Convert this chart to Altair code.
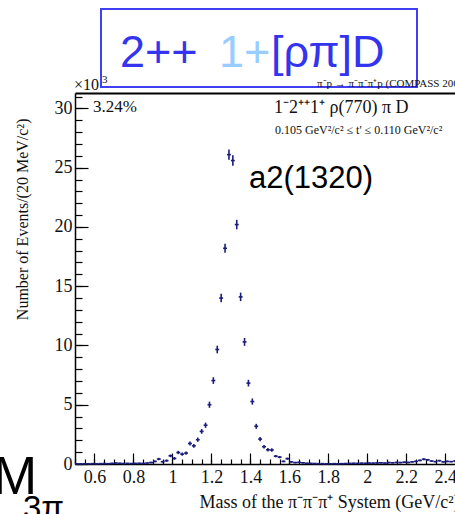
import altair as alt
import pandas as pd

# 3-pion invariant mass spectrum, 20 MeV bins (bin centres in GeV/c^2)
mass = [
    0.51, 0.53, 0.55, 0.57, 0.59, 0.61, 0.63, 0.65, 0.67, 0.69,
    0.71, 0.73, 0.75, 0.77, 0.79, 0.81, 0.83, 0.85, 0.87, 0.89,
    0.91, 0.93, 0.95, 0.97, 0.99, 1.01, 1.03, 1.05, 1.07, 1.09,
    1.11, 1.13, 1.15, 1.17, 1.19, 1.21, 1.23, 1.25, 1.27, 1.29,
    1.31, 1.33, 1.35, 1.37, 1.39, 1.41, 1.43, 1.45, 1.47, 1.49,
    1.51, 1.53, 1.55, 1.57, 1.59, 1.61, 1.63, 1.65, 1.67, 1.69,
    1.71, 1.73, 1.75, 1.77, 1.79, 1.81, 1.83, 1.85, 1.87, 1.89,
    1.91, 1.93, 1.95, 1.97, 1.99, 2.01, 2.03, 2.05, 2.07, 2.09,
    2.11, 2.13, 2.15, 2.17, 2.19, 2.21, 2.23, 2.25, 2.27, 2.29,
    2.31, 2.33, 2.35, 2.37, 2.39, 2.41, 2.43, 2.45,
]

# events per bin, in units of 10^3
events = [
    0.01, 0.01, 0.02, 0.02, 0.03, 0.02, 0.03, 0.04, 0.03, 0.05,
    0.08, 0.06, 0.04, 0.05, 0.04, 0.05, 0.06, 0.05, 0.08, 0.12,
    0.22, 0.42, 0.19, 0.28, 0.69, 0.47, 0.97, 0.83, 0.92, 1.73,
    1.53, 2.05, 2.75, 3.27, 5.00, 7.04, 9.66, 14.0, 18.2, 26.1,
    25.6, 20.2, 14.1, 10.3, 6.82, 5.27, 3.18, 2.10, 1.46, 1.20,
    1.18, 0.66, 0.58, 0.22, 0.45, 0.18, 0.12, 0.14, 0.10, 0.06,
    0.05, 0.04, 0.03, 0.03, 0.02, 0.02, 0.03, 0.02, 0.03, 0.04,
    0.05, 0.06, 0.05, 0.07, 0.06, 0.08, 0.07, 0.09, 0.10, 0.08,
    0.12, 0.10, 0.13, 0.12, 0.15, 0.13, 0.18, 0.22, 0.30, 0.40,
    0.35, 0.25, 0.20, 0.28, 0.18, 0.22, 0.20, 0.25,
]

# statistical uncertainties, same units
errors = [
    0.05, 0.05, 0.05, 0.05, 0.05, 0.05, 0.05, 0.05, 0.05, 0.05,
    0.05, 0.05, 0.05, 0.05, 0.05, 0.05, 0.05, 0.05, 0.05, 0.06,
    0.08, 0.10, 0.08, 0.10, 0.12, 0.12, 0.14, 0.13, 0.14, 0.17,
    0.16, 0.18, 0.20, 0.22, 0.26, 0.28, 0.32, 0.36, 0.38, 0.44,
    0.44, 0.40, 0.36, 0.33, 0.28, 0.26, 0.21, 0.18, 0.15, 0.14,
    0.14, 0.10, 0.10, 0.07, 0.09, 0.07, 0.06, 0.06, 0.06, 0.05,
    0.05, 0.05, 0.05, 0.05, 0.05, 0.05, 0.05, 0.05, 0.05, 0.05,
    0.05, 0.05, 0.05, 0.05, 0.05, 0.05, 0.05, 0.05, 0.05, 0.05,
    0.06, 0.05, 0.06, 0.06, 0.06, 0.06, 0.06, 0.07, 0.07, 0.08,
    0.08, 0.07, 0.06, 0.07, 0.06, 0.07, 0.06, 0.07,
]

x_major = [0.6, 0.8, 1.0, 1.2, 1.4, 1.6, 1.8, 2.0, 2.2, 2.4]
x_minor = [round(0.5 + 0.05 * i, 2) for i in range(40)]
y_major = [0, 5, 10, 15, 20, 25, 30]
y_minor = list(range(0, 32))

df = pd.DataFrame({"mass": mass, "events": events, "err": errors})

W, H = 380, 371
SERIF = "Liberation Serif"
SANS = "Liberation Sans"
INK = "#111111"
MARK = "#1c1c7c"
BLUE = "#3434ee"
LIGHT = "#99ccff"

xs = alt.Scale(domain=[0.5, 2.45], nice=False, zero=False)
ys = alt.Scale(domain=[0, 31.3], nice=False, zero=False)

base = alt.Chart(df).transform_calculate(
    lo="datum.events - datum.err",
    hi="datum.events + datum.err",
    x0="datum.mass - 0.01",
    x1="datum.mass + 0.01",
)

# labelled axes on the frame
x_labels = alt.Axis(
    orient="bottom", values=x_major, format="~g", ticks=False, tickSize=0,
    domain=True, domainColor="black", domainWidth=1.5, grid=False,
    labelFont=SERIF, labelFontSize=18, labelColor=INK, labelPadding=4,
    labelOverlap=False, labelFlush=False,
    title="Mass of the π⁻π⁻π⁺ System (GeV/c²)", titleFont=SERIF,
    titleFontSize=18, titleFontWeight="normal", titleColor=INK,
    titleX=124, titleY=43, titleAlign="left", titleBaseline="alphabetic",
)
y_labels = alt.Axis(
    orient="left", values=y_major, ticks=False, tickSize=0,
    domain=True, domainColor="black", domainWidth=1.5, grid=False,
    labelFont=SERIF, labelFontSize=18, labelColor=INK, labelPadding=3,
    labelOverlap=False, labelFlush=False,
    title="Number of Events/(20 MeV/c²)", titleFont=SERIF,
    titleFontSize=16, titleFontWeight="normal", titleColor=INK,
    titleAngle=270, titleX=-53, titleY=25, titleAlign="right",
    titleBaseline="middle",
)

# inward-pointing ticks: opposite-side axes pulled onto the frame edges
def inward_x(vals, size):
    return alt.Axis(orient="top", offset=-H, values=vals, tickSize=size,
                    tickColor="black", tickWidth=1.2, labels=False,
                    domain=False, grid=False, title=None)


def inward_y(vals, size):
    return alt.Axis(orient="right", offset=-W, values=vals, tickSize=size,
                    tickColor="black", tickWidth=1.2, labels=False,
                    domain=False, grid=False, title=None)


top_edge = alt.Axis(orient="top", ticks=False, labels=False, domain=True,
                    domainColor="black", domainWidth=1.8, grid=False,
                    title=None)

vbars = base.mark_rule(color=MARK, strokeWidth=1.6).encode(
    x=alt.X("mass:Q", scale=xs, axis=x_labels),
    y=alt.Y("lo:Q", scale=ys, axis=y_labels),
    y2="hi:Q",
)
hbars = base.mark_rule(color=MARK, strokeWidth=1.6).encode(
    x=alt.X("x0:Q", scale=xs, axis=inward_x(x_major, 11)),
    x2="x1:Q",
    y=alt.Y("events:Q", scale=ys, axis=inward_y(y_major, 13)),
)
minor_ticks = base.mark_point(opacity=0).encode(
    x=alt.X("mass:Q", scale=xs, axis=inward_x(x_minor, 5)),
    y=alt.Y("events:Q", scale=ys, axis=inward_y(y_minor, 7)),
)
frame_top = base.mark_point(opacity=0).encode(
    x=alt.X("mass:Q", scale=xs, axis=top_edge),
    y=alt.Y("events:Q", scale=ys, axis=None),
)

one = alt.Data(values=[{"k": 0}])


def label(text, x, y, size, font=SERIF, color=INK):
    return alt.Chart(one).mark_text(
        text=text, font=font, fontSize=size, color=color,
        align="left", baseline="alphabetic",
    ).encode(x=alt.value(x), y=alt.value(y))


box = alt.Chart(one).mark_rect(
    fillOpacity=0, stroke="#4040f2", strokeWidth=2
).encode(x=alt.value(26), x2=alt.value(342), y=alt.value(-84), y2=alt.value(-6))

texts = [
    label("2++", 45, -26, 45, SANS, BLUE),
    label("1+", 144, -26, 45, SANS, LIGHT),
    label("[ρπ]D", 196, -26, 45, SANS, BLUE),
    label("π⁻p → π⁻π⁻π⁺p (COMPASS 2008)", 242, -6, 11),
    label("×10", -1, -3, 16),
    label("3", 27, -10, 11),
    label("3.24%", 18, 19, 17),
    label("1⁻2⁺⁺1⁺ ρ(770) π D", 199, 20, 18),
    label("0.105 GeV²/c² ≤ t' ≤ 0.110 GeV²/c²", 200, 41, 12),
    label("a2(1320)", 174, 95, 31, SANS, "black"),
    label("M", -82, 401, 53, SANS, "black"),
    label("3π", -52, 426, 33, SANS, "black"),
]

chart = (
    alt.layer(vbars, hbars, minor_ticks, frame_top, box, *texts)
    .resolve_axis(x="independent", y="independent")
    .properties(
        width=W,
        height=H,
        autosize=alt.AutoSizeParams(type="none"),
        padding={"left": 75, "top": 93, "right": 0, "bottom": 50},
        background="white",
    )
    .configure_view(strokeWidth=0)
)

chart.save("out.html", embed_options={"renderer": "svg", "actions": False})
